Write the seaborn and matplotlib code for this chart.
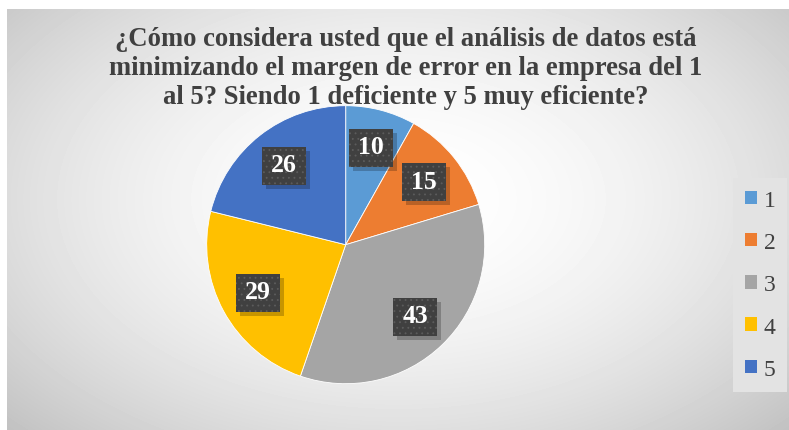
import numpy as np
import matplotlib
matplotlib.use("Agg")
import matplotlib.pyplot as plt
from matplotlib.patches import Patch, Rectangle
import seaborn as sns

categorias = ["1", "2", "3", "4", "5"]
respuestas = [10, 15, 43, 29, 26]
colores = ["#5B9BD5", "#ED7D31", "#A5A5A5", "#FFC000", "#4472C4"]
titulo = ("¿Cómo considera usted que el análisis de datos está\n"
          "minimizando el margen de error en la empresa del 1\n"
          "al 5? Siendo 1 deficiente y 5 muy eficiente?")

sns.set_theme(style="white")
plt.rcParams["font.family"] = ["Liberation Serif", "DejaVu Serif"]
plt.rcParams["hatch.linewidth"] = 0.6

W, H = 789, 431
fig = plt.figure(figsize=(W / 100, H / 100), dpi=100)
fig.patch.set_facecolor("white")

# fondo con degradado radial (gris en los bordes, blanco al centro)
bg = fig.add_axes([7 / W, 0, (W - 7) / W, (H - 10) / H])
yy, xx = np.mgrid[0:421, 0:782]
d = np.sqrt(((xx - 391) / 391) ** 2 + ((yy - 190) / 240) ** 2)
v = 1 - 0.25 * np.clip(d / 1.41, 0, 1) ** 1.8
bg.imshow(v, cmap="gray", vmin=0, vmax=1, aspect="auto", interpolation="bilinear")
bg.axis("off")

# ejes en pixeles (1 unidad = 1 px)
ax = fig.add_axes([0, 0, 1, 1])
ax.patch.set_alpha(0)
total = sum(respuestas)
wedges, textos, autotextos = ax.pie(
    respuestas, colors=colores, startangle=90, counterclock=False,
    center=(345.7, H - 245.7), radius=139, frame=True,
    autopct=lambda p: f"{p * total / 100:.0f}", pctdistance=0.72,
    wedgeprops=dict(edgecolor="white", linewidth=0.6),
)
ax.set_xlim(0, W)
ax.set_ylim(0, H)
ax.axis("off")

# cajas oscuras con puntos y sombra detras de cada valor
bw, bh = 44, 38
for t in autotextos:
    t.set_fontsize(18.5)
    t.set_fontweight("bold")
    t.set_color("white")
    t.set_zorder(5)
    x, y = t.get_position()
    ax.add_patch(Rectangle((x - bw / 2 + 4, y - bh / 2 - 4), bw, bh,
                           facecolor="black", alpha=0.22, linewidth=0, zorder=3))
    ax.add_patch(Rectangle((x - bw / 2, y - bh / 2), bw, bh, facecolor="#404040",
                           edgecolor="#5c5c5c", linewidth=0, hatch="...", zorder=4))
    t.set_position((x, y + 1))

fig.text(406 / W, 1 - 27 / H, titulo, ha="center", va="top", fontsize=19.2,
         fontweight="bold", color="#404040", linespacing=1.2,
         family=["Liberation Serif", "DejaVu Serif"])

handles = [Patch(facecolor=c, edgecolor="none") for c in colores]
leg = ax.legend(handles, categorias, loc="upper left",
                bbox_to_anchor=(733 / W, 1 - 179 / H), bbox_transform=fig.transFigure,
                frameon=True, fancybox=False, facecolor="#e3e3e3", edgecolor="none",
                framealpha=1, fontsize=17, handlelength=0.5, handleheight=0.5,
                handletextpad=0.3, labelspacing=0.9, borderpad=0.5, borderaxespad=0)
for txt in leg.get_texts():
    txt.set_color("#404040")

fig.savefig("out.png", dpi=100, facecolor=fig.get_facecolor())
